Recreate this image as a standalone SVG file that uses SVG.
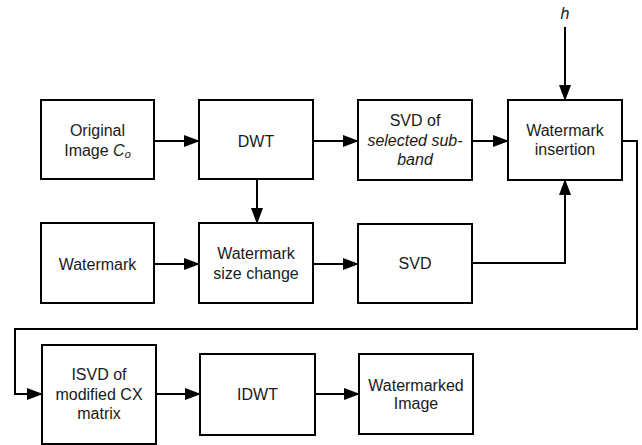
<svg xmlns="http://www.w3.org/2000/svg" width="642" height="445" viewBox="0 0 642 445">
  <style>
    .box { fill: #ffffff; stroke: #000000; stroke-width: 2; }
    .lbl { font-family: "Liberation Sans", Arial, sans-serif; font-size: 16px; fill: #1a1a1a; text-anchor: middle; dominant-baseline: central; }
    .it { font-style: italic; }
    .wire { fill: none; stroke: #000000; stroke-width: 2; }
  </style>
  <defs>
    <marker id="arrow" markerUnits="userSpaceOnUse" markerWidth="16" markerHeight="12" refX="15" refY="6" orient="auto">
      <path d="M0,0 L16,6 L0,12 Z" fill="#000000"/>
    </marker>
  </defs>

  <rect width="642" height="445" fill="#ffffff"/>

  <!-- connectors -->
  <g id="connectors">
    <line class="wire" x1="154" y1="141" x2="199" y2="141" marker-end="url(#arrow)"/>
    <line class="wire" x1="313" y1="141" x2="358" y2="141" marker-end="url(#arrow)"/>
    <line class="wire" x1="472" y1="141" x2="508" y2="141" marker-end="url(#arrow)"/>
    <line class="wire" x1="565" y1="27" x2="565" y2="100" marker-end="url(#arrow)"/>
    <line class="wire" x1="257" y1="179" x2="257" y2="223" marker-end="url(#arrow)"/>
    <line class="wire" x1="154" y1="264" x2="199" y2="264" marker-end="url(#arrow)"/>
    <line class="wire" x1="313" y1="264" x2="358" y2="264" marker-end="url(#arrow)"/>
    <polyline class="wire" points="472,263 565,263 565,180" marker-end="url(#arrow)"/>
    <polyline class="wire" points="622,141 637,141 637,329 15,329 15,394 42,394" marker-end="url(#arrow)"/>
    <line class="wire" x1="156" y1="394" x2="200" y2="394" marker-end="url(#arrow)"/>
    <line class="wire" x1="315" y1="394" x2="359" y2="394" marker-end="url(#arrow)"/>
  </g>

  <text class="lbl it" x="565" y="13">h</text>

  <g id="original">
    <rect class="box" x="41" y="100" width="113" height="79"/>
    <text class="lbl" x="97.5" y="130">Original</text>
    <text class="lbl" x="97.5" y="150">Image <tspan class="it">C</tspan><tspan class="it" font-size="11px" dy="4">o</tspan></text>
  </g>

  <g id="dwt">
    <rect class="box" x="199" y="100" width="114" height="79"/>
    <text class="lbl" x="256" y="141">DWT</text>
  </g>

  <g id="svd-subband">
    <rect class="box" x="358" y="100" width="114" height="80"/>
    <text class="lbl" x="415" y="120">SVD of</text>
    <text class="lbl it" x="415" y="140">selected sub-</text>
    <text class="lbl it" x="415" y="159">band</text>
  </g>

  <g id="insertion">
    <rect class="box" x="508" y="100" width="114" height="80"/>
    <text class="lbl" x="565" y="130">Watermark</text>
    <text class="lbl" x="565" y="149">insertion</text>
  </g>

  <g id="watermark">
    <rect class="box" x="41" y="223" width="113" height="80"/>
    <text class="lbl" x="97.5" y="264">Watermark</text>
  </g>

  <g id="size-change">
    <rect class="box" x="199" y="223" width="114" height="80"/>
    <text class="lbl" x="256" y="253">Watermark</text>
    <text class="lbl" x="256" y="273">size change</text>
  </g>

  <g id="svd">
    <rect class="box" x="358" y="224" width="114" height="79"/>
    <text class="lbl" x="415" y="263">SVD</text>
  </g>

  <g id="isvd">
    <rect class="box" x="42" y="345" width="114" height="99"/>
    <text class="lbl" x="99" y="374">ISVD of</text>
    <text class="lbl" x="99" y="394">modified CX</text>
    <text class="lbl" x="99" y="413">matrix</text>
  </g>

  <g id="idwt">
    <rect class="box" x="200" y="354" width="115" height="81"/>
    <text class="lbl" x="257.5" y="394">IDWT</text>
  </g>

  <g id="watermarked">
    <rect class="box" x="359" y="354" width="114" height="80"/>
    <text class="lbl" x="416" y="385">Watermarked</text>
    <text class="lbl" x="416" y="403">Image</text>
  </g>
</svg>
